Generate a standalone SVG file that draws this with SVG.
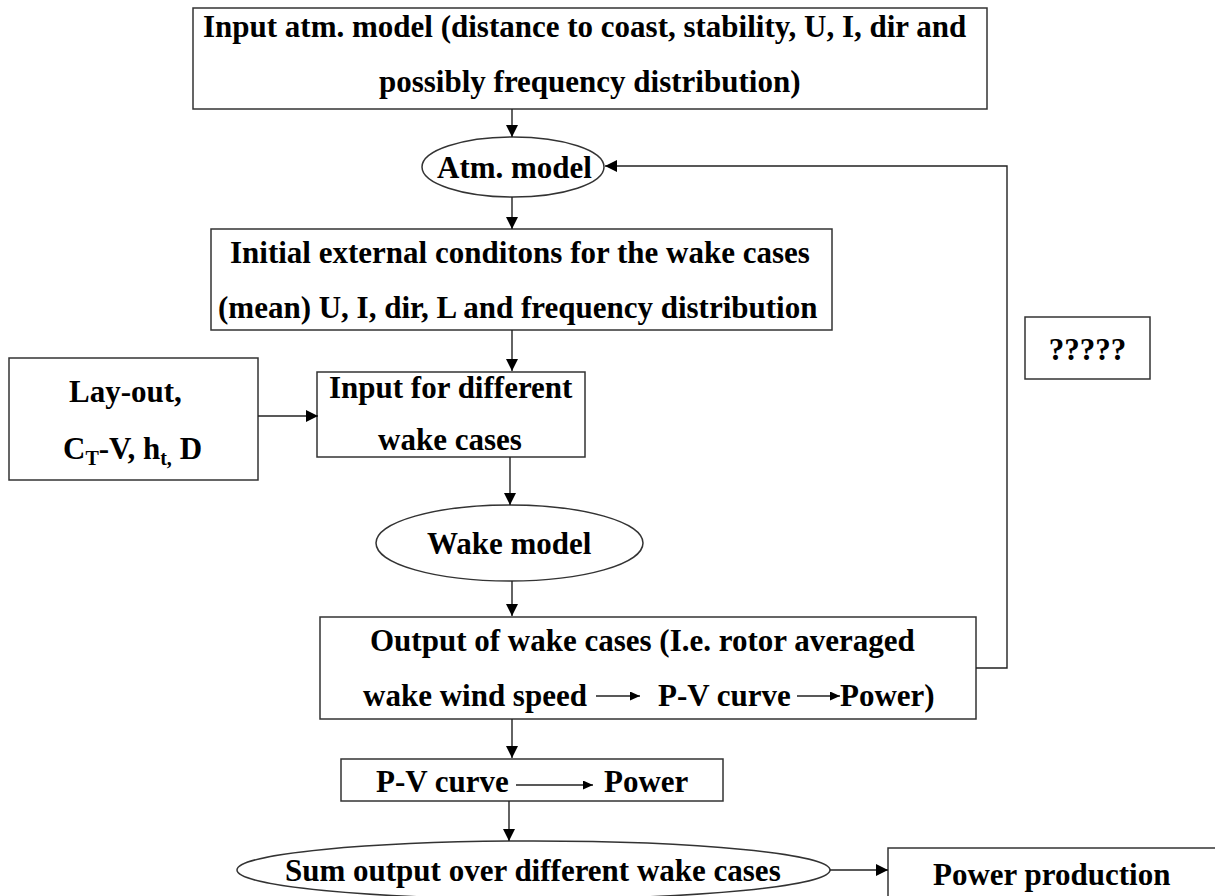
<svg xmlns="http://www.w3.org/2000/svg" width="1215" height="896" viewBox="0 0 1215 896">
<style>
.box{fill:#fff;stroke:#333;stroke-width:1.5}
.t{font-family:"Liberation Serif","Times New Roman",serif;font-weight:bold;font-size:31px;fill:#000}
.sub{font-size:20px}
.c{fill:none;stroke:#222;stroke-width:1.4}
</style>
<defs>
<marker id="ah" markerWidth="12" markerHeight="12" refX="12" refY="6" orient="auto" markerUnits="userSpaceOnUse"><path d="M0,0 L12,6 L0,12 z" fill="#000"/></marker>
<marker id="as" markerWidth="10" markerHeight="9" refX="10" refY="4.5" orient="auto" markerUnits="userSpaceOnUse"><path d="M0,0 L10,4.5 L0,9 z" fill="#000"/></marker>
</defs>
<g id="input-atm">
<rect class="box" x="193" y="8" width="794" height="101"/>
<text class="t" x="203" y="37">Input atm. model (distance to coast, stability, U, I, dir and</text>
<text class="t" x="379" y="92">possibly frequency distribution)</text>
</g>
<g id="atm-model">
<ellipse class="box" cx="513" cy="167" rx="91" ry="30"/>
<text class="t" x="437" y="178">Atm. model</text>
</g>
<g id="initial">
<rect class="box" x="211" y="229" width="621" height="101"/>
<text class="t" x="230" y="263">Initial external conditons for the wake cases</text>
<text class="t" x="218" y="318">(mean) U, I, dir, L and frequency distribution</text>
</g>
<g id="questions">
<rect class="box" x="1025" y="317" width="125" height="62"/>
<text class="t" x="1087.5" y="360" text-anchor="middle">?????</text>
</g>
<g id="layout">
<rect class="box" x="9" y="358" width="249" height="122"/>
<text class="t" x="69" y="402">Lay-out,</text>
<text class="t" x="63" y="459">C<tspan class="sub" dy="6">T</tspan><tspan dy="-6">-V, h</tspan><tspan class="sub" dy="6">t,</tspan><tspan dy="-6"> D</tspan></text>
</g>
<g id="input-wake">
<rect class="box" x="317" y="372" width="268" height="85"/>
<text class="t" x="329" y="398">Input for different</text>
<text class="t" x="378" y="450">wake cases</text>
</g>
<g id="wake-model">
<ellipse class="box" cx="509.5" cy="543" rx="133.5" ry="38"/>
<text class="t" x="427" y="554">Wake model</text>
</g>
<g id="output">
<rect class="box" x="320" y="617" width="656" height="102"/>
<text class="t" x="370" y="651">Output of wake cases (I.e. rotor averaged</text>
<text class="t" x="363" y="706">wake wind speed</text>
<text class="t" x="658" y="706">P-V curve</text>
<text class="t" x="840" y="706">Power)</text>
</g>
<g id="pv-curve">
<rect class="box" x="341" y="759" width="382" height="42"/>
<text class="t" x="376" y="792">P-V curve</text>
<text class="t" x="604" y="792">Power</text>
</g>
<g id="sum">
<ellipse class="box" cx="533.5" cy="870" rx="296.5" ry="29"/>
<text class="t" x="285" y="881">Sum output over different wake cases</text>
</g>
<g id="power-production">
<rect class="box" x="888" y="848" width="340" height="60"/>
<text class="t" x="933" y="885">Power production</text>
</g>
<g id="connectors">
<path class="c" d="M512,109 V137" marker-end="url(#ah)"/>
<path class="c" d="M512,197 V229" marker-end="url(#ah)"/>
<path class="c" d="M512,330 V371" marker-end="url(#ah)"/>
<path class="c" d="M258,416 H318" marker-end="url(#ah)"/>
<path class="c" d="M510,457 V505" marker-end="url(#ah)"/>
<path class="c" d="M512,581 V616" marker-end="url(#ah)"/>
<path class="c" d="M512,719 V758" marker-end="url(#ah)"/>
<path class="c" d="M509,801 V841" marker-end="url(#ah)"/>
<path class="c" d="M830,870 H888" marker-end="url(#ah)"/>
<path class="c" d="M976,668 H1007 V166 H605" marker-end="url(#ah)"/>
<path class="c" d="M596,696 H640" marker-end="url(#as)"/>
<path class="c" d="M797,696 H840" marker-end="url(#as)"/>
<path class="c" d="M516,785 H593" marker-end="url(#as)"/>
</g>
</svg>
